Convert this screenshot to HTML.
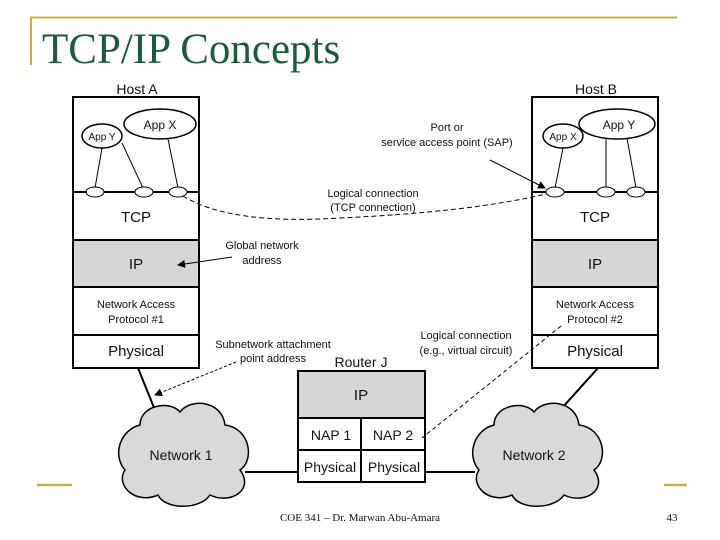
<!DOCTYPE html>
<html><head><meta charset="utf-8"><style>
body{margin:0;width:720px;height:540px;background:#fff;overflow:hidden}
svg{display:block}
.s{font-family:"Liberation Sans",sans-serif;fill:#111}
.r{font-family:"Liberation Serif",serif;fill:#111}
</style></head><body>
<svg width="720" height="540" viewBox="0 0 720 540" xmlns="http://www.w3.org/2000/svg">
<defs><marker id="a" markerWidth="8" markerHeight="8" refX="7" refY="4" orient="auto" markerUnits="userSpaceOnUse"><path d="M0,0 L8,4 L0,8 z" fill="#000"/></marker></defs>
<path d="M31,65 V17.5 H677" fill="none" stroke="#c8b040" stroke-width="2"/>
<line x1="37" y1="485" x2="72" y2="485" stroke="#c8b040" stroke-width="2.5"/>
<line x1="664" y1="485" x2="687" y2="485" stroke="#c8b040" stroke-width="2.5"/>
<text x="42" y="63" font-family="Liberation Serif,serif" font-size="43" fill="#1c5a3e">TCP/IP Concepts</text>

<text x="137" y="94" class="s" font-size="14" text-anchor="middle">Host A</text>
<rect x="73" y="240" width="126" height="47" fill="#d6d6d6"/>
<rect x="73" y="97" width="126" height="271" fill="none" stroke="#000" stroke-width="2"/>
<g stroke="#000" stroke-width="2"><line x1="73" y1="192" x2="199" y2="192"/><line x1="73" y1="240" x2="199" y2="240"/><line x1="73" y1="287" x2="199" y2="287"/><line x1="73" y1="335" x2="199" y2="335"/></g>
<g stroke="#000" stroke-width="1" fill="#fff">
<line x1="102" y1="148" x2="95" y2="188"/><line x1="122" y1="143" x2="143" y2="188"/><line x1="168" y1="139" x2="178" y2="188"/>
<ellipse cx="102" cy="136" rx="20" ry="12" stroke-width="1.5"/><ellipse cx="160" cy="124" rx="36" ry="15" stroke-width="1.5"/>
<ellipse cx="95" cy="192" rx="9" ry="5"/><ellipse cx="144" cy="192" rx="9" ry="5"/><ellipse cx="178" cy="192" rx="9" ry="5"/>
</g>
<text x="102" y="140" class="s" font-size="10" text-anchor="middle">App Y</text>
<text x="160" y="129" class="s" font-size="12" text-anchor="middle">App X</text>
<text x="136" y="222" class="s" font-size="15" text-anchor="middle">TCP</text>
<text x="136" y="269" class="s" font-size="15" text-anchor="middle">IP</text>
<text x="136" y="308" class="s" font-size="11" text-anchor="middle">Network Access</text>
<text x="136" y="323" class="s" font-size="11" text-anchor="middle">Protocol #1</text>
<text x="136" y="356" class="s" font-size="15" text-anchor="middle">Physical</text>

<text x="596" y="94" class="s" font-size="14" text-anchor="middle">Host B</text>
<rect x="532" y="240" width="126" height="47" fill="#d6d6d6"/>
<rect x="532" y="97" width="126" height="271" fill="none" stroke="#000" stroke-width="2"/>
<g stroke="#000" stroke-width="2"><line x1="532" y1="192" x2="658" y2="192"/><line x1="532" y1="240" x2="658" y2="240"/><line x1="532" y1="287" x2="658" y2="287"/><line x1="532" y1="335" x2="658" y2="335"/></g>
<g stroke="#000" stroke-width="1" fill="#fff">
<line x1="563" y1="148" x2="555" y2="188"/><line x1="606" y1="138" x2="606" y2="188"/><line x1="627" y1="138" x2="636" y2="188"/>
<ellipse cx="563" cy="136" rx="20" ry="12" stroke-width="1.5"/><ellipse cx="617" cy="124" rx="38" ry="15" stroke-width="1.5"/>
<ellipse cx="555" cy="192" rx="9" ry="5"/><ellipse cx="606" cy="192" rx="9" ry="5"/><ellipse cx="636" cy="192" rx="9" ry="5"/>
</g>
<text x="563" y="140" class="s" font-size="10" text-anchor="middle">App X</text>
<text x="619" y="129" class="s" font-size="12" text-anchor="middle">App Y</text>
<text x="595" y="222" class="s" font-size="15" text-anchor="middle">TCP</text>
<text x="595" y="269" class="s" font-size="15" text-anchor="middle">IP</text>
<text x="595" y="308" class="s" font-size="11" text-anchor="middle">Network Access</text>
<text x="595" y="323" class="s" font-size="11" text-anchor="middle">Protocol #2</text>
<text x="595" y="356" class="s" font-size="15" text-anchor="middle">Physical</text>

<text x="361" y="367" class="s" font-size="14" text-anchor="middle">Router J</text>
<rect x="298" y="371" width="127" height="47" fill="#d6d6d6"/>
<rect x="298" y="371" width="127" height="111" fill="none" stroke="#000" stroke-width="2"/>
<g stroke="#000" stroke-width="2"><line x1="298" y1="418" x2="425" y2="418"/><line x1="298" y1="450" x2="425" y2="450"/><line x1="361" y1="418" x2="361" y2="482"/></g>
<text x="361" y="400" class="s" font-size="15" text-anchor="middle">IP</text>
<text x="331" y="440" class="s" font-size="14" text-anchor="middle">NAP 1</text>
<text x="393" y="440" class="s" font-size="14" text-anchor="middle">NAP 2</text>
<text x="330" y="472" class="s" font-size="14" text-anchor="middle">Physical</text>
<text x="394" y="472" class="s" font-size="14" text-anchor="middle">Physical</text>

<g stroke="#000" stroke-width="2">
<line x1="138" y1="368" x2="159" y2="420"/><line x1="598" y1="368" x2="562" y2="408"/>
<line x1="245" y1="472" x2="298" y2="472"/><line x1="425" y1="472" x2="475" y2="472"/>
</g>
<g fill="#d9d9d9" stroke="#000" stroke-width="1.5">
<path d="M140,425 C140,405 170,400 180,412 C190,398 222,400 225,425 C250,428 255,460 240,470 C255,490 230,505 210,495 C200,510 165,510 158,495 C135,505 115,485 125,470 C112,455 120,430 140,425 Z"/>
<path d="M494,425 C494,405 524,400 534,412 C544,398 576,400 579,425 C604,428 609,460 594,470 C609,490 584,505 564,495 C554,510 519,510 512,495 C489,505 469,485 479,470 C466,455 474,430 494,425 Z"/>
</g>
<text x="181" y="460" class="s" font-size="14" text-anchor="middle">Network 1</text>
<text x="534" y="460" class="s" font-size="14" text-anchor="middle">Network 2</text>

<text x="447" y="131" class="s" font-size="11" text-anchor="middle">Port or</text>
<text x="447" y="146" class="s" font-size="11" text-anchor="middle">service access point (SAP)</text>
<line x1="490" y1="160" x2="545" y2="188" stroke="#000" stroke-width="1" marker-end="url(#a)"/>
<text x="373" y="197" class="s" font-size="11" text-anchor="middle">Logical connection</text>
<text x="373" y="211" class="s" font-size="11" text-anchor="middle">(TCP connection)</text>
<path d="M183,196 Q230,225 340,218 Q470,212 546,194" fill="none" stroke="#000" stroke-width="1" stroke-dasharray="5,3"/>
<text x="262" y="249" class="s" font-size="11" text-anchor="middle">Global network</text>
<text x="262" y="264" class="s" font-size="11" text-anchor="middle">address</text>
<line x1="232" y1="257" x2="178" y2="265" stroke="#000" stroke-width="1" marker-end="url(#a)"/>
<text x="273" y="348" class="s" font-size="11" text-anchor="middle">Subnetwork attachment</text>
<text x="273" y="362" class="s" font-size="11" text-anchor="middle">point address</text>
<line x1="236" y1="362" x2="155" y2="395" stroke="#000" stroke-width="1" stroke-dasharray="3,2" marker-end="url(#a)"/>
<text x="466" y="339" class="s" font-size="11" text-anchor="middle">Logical connection</text>
<text x="466" y="354" class="s" font-size="11" text-anchor="middle">(e.g., virtual circuit)</text>
<line x1="561" y1="326" x2="422" y2="438" stroke="#000" stroke-width="1" stroke-dasharray="4,3"/>

<text x="360" y="521" class="r" font-size="11" text-anchor="middle">COE 341 – Dr. Marwan Abu-Amara</text>
<text x="672" y="521" class="r" font-size="11" text-anchor="middle">43</text>
</svg>
</body></html>
